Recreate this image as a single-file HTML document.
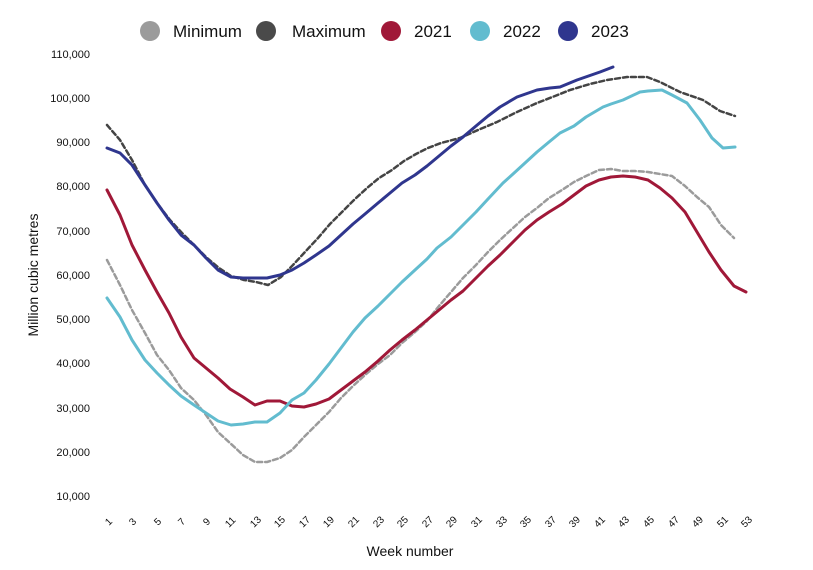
<!DOCTYPE html><html><head><style>body{margin:0;background:#fff}svg{display:block;font-family:"Liberation Sans",sans-serif}</style></head><body>
<svg width="813" height="570" viewBox="0 0 813 570">
<g font-size="17" fill="#111">
<circle cx="150" cy="31" r="10" fill="#9b9b9b"/><text x="173" y="37">Minimum</text>
<circle cx="266" cy="31" r="10" fill="#4a4a4a"/><text x="292" y="37">Maximum</text>
<circle cx="391" cy="31" r="10" fill="#a01838"/><text x="414" y="37">2021</text>
<circle cx="480" cy="31" r="10" fill="#62bccf"/><text x="503" y="37">2022</text>
<circle cx="568" cy="31" r="10" fill="#2f368e"/><text x="591" y="37">2023</text>
</g>
<g font-size="11" fill="#111" text-anchor="end">
<text x="90" y="58">110,000</text><text x="90" y="102">100,000</text><text x="90" y="146">90,000</text><text x="90" y="190">80,000</text><text x="90" y="235">70,000</text><text x="90" y="279">60,000</text><text x="90" y="323">50,000</text><text x="90" y="367">40,000</text><text x="90" y="412">30,000</text><text x="90" y="456">20,000</text><text x="90" y="500">10,000</text>
</g>
<text transform="translate(38,275) rotate(-90)" font-size="14" text-anchor="middle" fill="#111">Million cubic metres</text>
<text x="410" y="556" font-size="14" text-anchor="middle" fill="#111">Week number</text>
<g fill="none" stroke-linejoin="round" stroke-linecap="round">
<polyline stroke="#9b9b9b" stroke-width="2.5" stroke-dasharray="5,3" points="107,260 120,285 132,310 145,333 157,355 169,370 181,388 194,400 206,415 218,432 230,443 243,455 255,462 267,462 280,458 292,450 304,437 316,425 329,412 341,398 353,386 365,375 378,364 390,355 402,343 415,332 427,321 439,306 451,292 463,278 476,265 488,252 500,240 513,228 525,217 537,208 549,198 562,190 574,182 586,176 599,170 611,169 623,171 635,171 648,172 660,174 672,176 685,186 697,197 709,207 721,225 734,238"/>
<polyline stroke="#444" stroke-width="2.5" stroke-dasharray="5,3" points="107,125 120,140 132,160 145,185 157,203 170,220 182,233 194,245 207,258 219,268 231,276 244,280 256,282 268,285 281,277 293,265 305,252 318,238 330,224 342,212 355,199 367,188 379,178 392,170 404,161 416,154 428,148 441,143 460,138 478,130 497,122 517,112 537,103 555,96 570,90 590,84 607,80 627,77 647,77 660,82 680,92 703,100 720,111 735,116"/>
<polyline stroke="#a01838" stroke-width="3" points="107,190 120,215 132,245 145,270 157,292 169,313 181,337 194,358 206,368 218,378 230,389 243,397 255,405 267,401 280,401 292,406 304,407 316,404 329,399 341,390 353,381 365,372 378,361 390,350 402,340 415,330 427,320 439,310 451,300 463,291 476,278 488,266 500,255 513,242 525,230 537,220 549,212 562,204 574,195 586,186 599,180 611,177 623,176 635,177 648,180 660,188 672,198 685,212 697,232 709,252 721,270 734,286 746,292"/>
<polyline stroke="#62bccf" stroke-width="3" points="107,298 120,317 132,340 145,360 157,373 169,385 181,396 194,405 206,413 218,421 231,425 243,424 255,422 267,422 280,413 292,400 304,393 316,380 329,364 341,348 353,332 365,318 378,306 390,294 402,282 415,270 427,259 437,248 451,237 463,225 476,212 488,199 503,183 513,174 525,163 537,152 549,142 560,133 574,126 586,117 603,107 611,104 623,100 640,92 648,91 662,90 672,95 687,103 700,120 712,138 723,148 735,147"/>
<polyline stroke="#2f368e" stroke-width="3" points="107,148 120,153 132,165 145,185 157,203 169,220 181,235 194,245 206,258 218,270 231,277 243,278 255,278 267,278 280,275 292,270 304,263 316,255 329,246 341,235 353,224 365,214 378,203 390,193 402,183 415,175 427,166 439,156 451,146 463,137 476,126 488,116 500,107 517,97 537,90 550,88 560,87 577,80 600,72 613,67"/>
</g>
<g font-size="10" fill="#111">
<text transform="translate(109,526) rotate(-45)">1</text>
<text transform="translate(133,526) rotate(-45)">3</text>
<text transform="translate(158,526) rotate(-45)">5</text>
<text transform="translate(182,526) rotate(-45)">7</text>
<text transform="translate(207,526) rotate(-45)">9</text>
<text transform="translate(229,528) rotate(-45)">11</text>
<text transform="translate(254,528) rotate(-45)">13</text>
<text transform="translate(278,528) rotate(-45)">15</text>
<text transform="translate(303,528) rotate(-45)">17</text>
<text transform="translate(327,528) rotate(-45)">19</text>
<text transform="translate(352,528) rotate(-45)">21</text>
<text transform="translate(377,528) rotate(-45)">23</text>
<text transform="translate(401,528) rotate(-45)">25</text>
<text transform="translate(426,528) rotate(-45)">27</text>
<text transform="translate(450,528) rotate(-45)">29</text>
<text transform="translate(475,528) rotate(-45)">31</text>
<text transform="translate(500,528) rotate(-45)">33</text>
<text transform="translate(524,528) rotate(-45)">35</text>
<text transform="translate(549,528) rotate(-45)">37</text>
<text transform="translate(573,528) rotate(-45)">39</text>
<text transform="translate(598,528) rotate(-45)">41</text>
<text transform="translate(622,528) rotate(-45)">43</text>
<text transform="translate(647,528) rotate(-45)">45</text>
<text transform="translate(672,528) rotate(-45)">47</text>
<text transform="translate(696,528) rotate(-45)">49</text>
<text transform="translate(721,528) rotate(-45)">51</text>
<text transform="translate(745,528) rotate(-45)">53</text>
</g>
</svg></body></html>
